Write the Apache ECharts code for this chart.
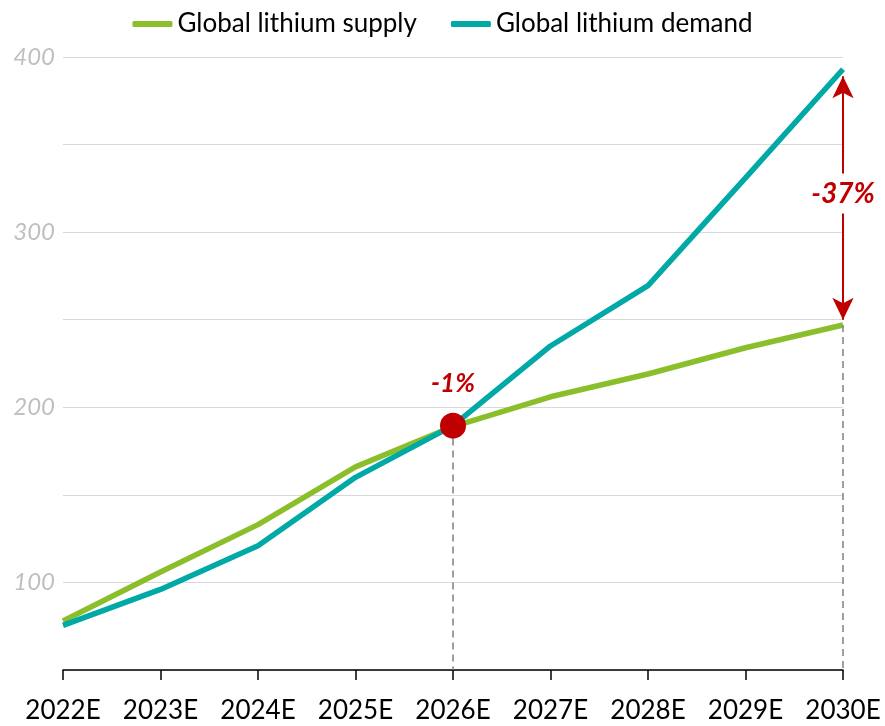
<!DOCTYPE html>
<html>
<head>
<meta charset="utf-8">
<script src="https://cdn.jsdelivr.net/npm/echarts@6/dist/echarts.min.js"></script>
<style>
  html, body { margin: 0; padding: 0; background: #fff; }
  #chart { width: 885px; height: 726px; }
</style>
</head>
<body>
<div id="chart"></div>
<script>
// 数据
var years = ['2022E', '2023E', '2024E', '2025E', '2026E', '2027E', '2028E', '2029E', '2030E'];
var supply = [78, 106, 133, 166, 189, 206, 219, 234, 247];
var demand = [75.5, 96, 121, 160, 189.5, 235, 269.5, 331, 393];
var yTicks = [100, 200, 300, 400];
var crossGap = '-1%';
var endGap = '-37%';

var red = '#C00000';
var font = 'Lato, "Open Sans", sans-serif';

var option = {
  backgroundColor: '#fff',
  textStyle: { fontFamily: font },
  legend: {
    top: 6,
    left: 'center',
    itemWidth: 40,
    itemHeight: 6,
    itemGap: 34,
    icon: 'roundRect',
    textStyle: { fontSize: 26, color: '#000', fontFamily: font },
    data: ['Global lithium supply', 'Global lithium demand']
  },
  grid: { left: 63, right: 42, top: 57, bottom: 56 },
  xAxis: {
    type: 'category',
    data: years,
    boundaryGap: false,
    axisLine: { lineStyle: { color: '#000', width: 1.5 } },
    axisTick: { show: true, interval: 0, length: 10, lineStyle: { color: '#000', width: 1.5 } },
    axisLabel: { interval: 0, fontSize: 26, color: '#000', margin: 28, fontFamily: font }
  },
  yAxis: {
    type: 'value',
    min: 50,
    max: 400,
    interval: 50,
    axisLine: { show: false },
    axisTick: { show: false },
    splitLine: { lineStyle: { color: '#D9D9D9', width: 1 } },
    axisLabel: {
      fontSize: 24,
      fontStyle: 'italic',
      color: '#BFBFBF',
      margin: 8,
      fontFamily: font,
      formatter: function (v) { return yTicks.indexOf(v) >= 0 ? v : ''; }
    }
  },
  series: [
    {
      name: 'Global lithium supply',
      type: 'line',
      data: supply,
      clip: false,
      symbol: 'none',
      color: '#8BBE2B',
      lineStyle: { width: 5.5, color: '#8BBE2B' },
      markLine: {
        silent: true,
        symbol: ['none', 'none'],
        label: { show: false },
        lineStyle: { color: '#808080', type: [7, 5], width: 1.5 },
        data: [
          [{ coord: ['2026E', supply[4]] }, { coord: ['2026E', 50] }],
          [{ coord: ['2030E', supply[8]] }, { coord: ['2030E', 50] }]
        ]
      }
    },
    {
      name: 'Global lithium demand',
      type: 'line',
      data: demand,
      clip: false,
      symbol: 'none',
      color: '#00A9A6',
      lineStyle: { width: 5.5, color: '#00A9A6' },
      markLine: {
        silent: true,
        symbol: ['arrow', 'arrow'],
        symbolSize: [16, 22],
        label: { show: false },
        lineStyle: { color: red, type: 'solid', width: 2 },
        data: [
          [{ coord: ['2030E', supply[8] + 3] }, { coord: ['2030E', demand[8] - 4] }]
        ]
      },
      markPoint: {
        silent: true,
        data: [
          {
            coord: ['2026E', demand[4]],
            symbol: 'circle',
            symbolSize: 26,
            itemStyle: { color: red },
            label: {
              show: true,
              position: 'top',
              distance: 16,
              formatter: crossGap,
              color: red,
              fontSize: 26,
              fontWeight: 'bold',
              fontStyle: 'italic',
              fontFamily: font
            }
          },
          {
            coord: ['2030E', 322],
            symbol: 'rect',
            symbolSize: 1,
            itemStyle: { color: 'rgba(0,0,0,0)' },
            label: {
              show: true,
              position: 'inside',
              formatter: endGap,
              color: red,
              backgroundColor: '#fff',
              padding: [6, 2],
              fontSize: 28,
              fontWeight: 'bold',
              fontStyle: 'italic',
              fontFamily: font
            }
          }
        ]
      }
    }
  ]
};

var chart = echarts.init(document.getElementById('chart'));
chart.setOption(option);
</script>
</body>
</html>
